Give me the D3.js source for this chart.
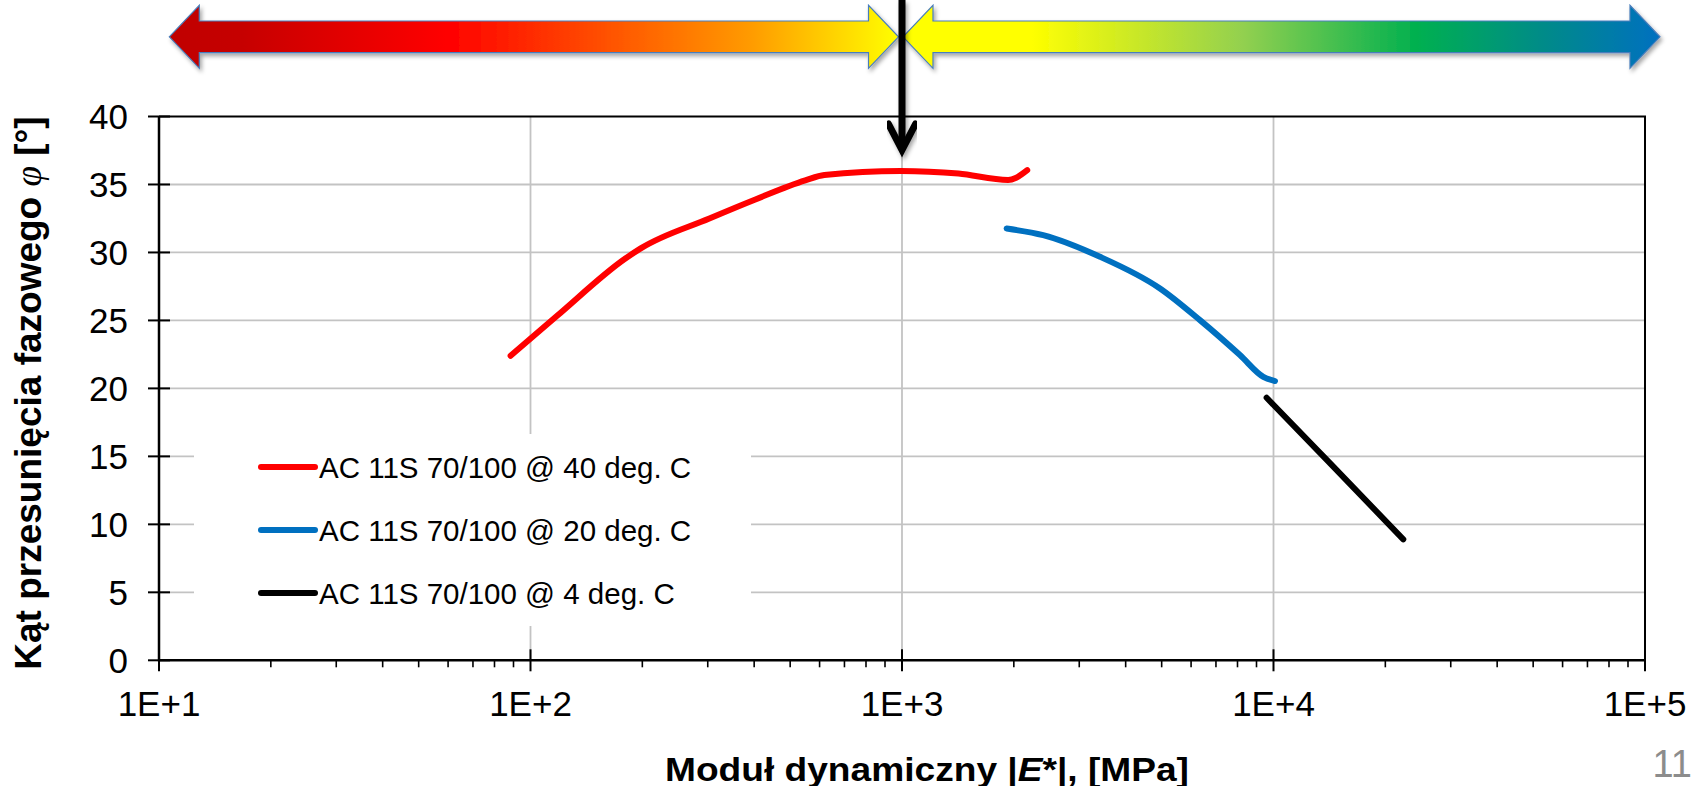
<!DOCTYPE html>
<html>
<head>
<meta charset="utf-8">
<script src="https://cdn.jsdelivr.net/npm/d3@7"></script>
<style>
  body { margin: 0; background: #fff; }
  svg text { font-family: "Liberation Sans", Arial, sans-serif; }
</style>
</head>
<body>
<svg id="graphic-svg" width="1707" height="786"></svg>
<script>
////////////////////////////////////////////////////////////////////////////////////
// Data - modulus |E*| in MPa, phase angle in deg
var seriesNames = ["AC 11S 70/100 @ 40 deg. C", "AC 11S 70/100 @ 20 deg. C", "AC 11S 70/100 @ 4 deg. C"];
var seriesColors = ["#ff0000", "#0070c0", "#000000"];

var modulus40 = [88.4, 117.5, 180, 198, 303, 403, 549, 618, 993, 1419, 1931, 2030, 2173];
var phase40   = [22.4, 25.3, 29.55, 30.3, 32.5, 33.9, 35.3, 35.7, 36.0, 35.8, 35.33, 35.5, 36.05];

var modulus20 = [1913, 2399, 3412, 4949, 6339, 8123, 9389, 10093];
var phase20   = [31.76, 31.27, 29.68, 27.35, 25.02, 22.45, 20.85, 20.54];

var modulus4 = [9583, 14488, 22355];
var phase4   = [19.31, 14.24, 8.9];

var xTicks = [10, 100, 1000, 10000, 100000];
var xTickLabels = ["1E+1", "1E+2", "1E+3", "1E+4", "1E+5"];
var yTicks = [0, 5, 10, 15, 20, 25, 30, 35, 40];

////////////////////////////////////////////////////////////////////////////////////
var svg = d3.select("#graphic-svg");
// plot area edges (note: can't use "top" as a global name, it's window.top)
var plotL = 159, plotR = 1645, plotT = 116.5, plotB = 660.3;

var xScale = d3.scaleLog()
               .domain([10, 100000])
               .range([plotL, plotR]);
var yScale = d3.scaleLinear()
               .domain([0, 40])
               .range([plotB, plotT]);

var gridColor = "#c3c3c3";

// defs: gradients + shadow
var defs = svg.append("defs");
function addGradient(id, x1, x2, stops) {
  var g = defs.append("linearGradient")
              .attr("id", id)
              .attr("gradientUnits", "userSpaceOnUse")
              .attr("x1", x1).attr("x2", x2)
              .attr("y1", 0).attr("y2", 0);
  stops.forEach(function(s) {
    g.append("stop").attr("offset", s[0]).attr("stop-color", s[1]);
  });
}
var shadow = defs.append("filter").attr("id", "shadow")
                 .attr("x", "-5%").attr("y", "-30%").attr("width", "110%").attr("height", "170%");
shadow.append("feDropShadow")
      .attr("dx", 2).attr("dy", 3)
      .attr("stdDeviation", 2)
      .attr("flood-color", "#000")
      .attr("flood-opacity", 0.35);

// Gridlines
svg.append("g")
   .selectAll("line")
   .data(yTicks.filter(function(d) { return d > 0 && d < 40; }))
   .enter()
   .append("line")
   .attr("x1", plotL).attr("x2", plotR)
   .attr("y1", function(d) { return yScale(d); })
   .attr("y2", function(d) { return yScale(d); })
   .style("stroke", gridColor)
   .style("stroke-width", 1.8);
svg.append("g")
   .selectAll("line")
   .data(xTicks.slice(1, 4))
   .enter()
   .append("line")
   .attr("x1", function(d) { return xScale(d); })
   .attr("x2", function(d) { return xScale(d); })
   .attr("y1", plotT).attr("y2", plotB)
   .style("stroke", gridColor)
   .style("stroke-width", 1.8);

// Legend background (hides gridlines behind it)
svg.append("rect")
   .attr("x", 194).attr("y", 434)
   .attr("width", 557).attr("height", 192)
   .style("fill", "#fff");

// Plot frame (top + right)
svg.append("path")
   .attr("d", "M" + plotL + "," + plotT + "H" + plotR + "V" + plotB)
   .style("fill", "none")
   .style("stroke", "#000")
   .style("stroke-width", 2);

// Y axis
var gy = svg.append("g").attr("transform", "translate(" + plotL + ",0)");
gy.append("line")
  .attr("x1", 0).attr("x2", 0).attr("y1", plotT).attr("y2", plotB + 1)
  .style("stroke", "#000").style("stroke-width", 2.5);
gy.selectAll(".ytick")
  .data(yTicks)
  .enter()
  .append("line")
  .attr("class", "ytick")
  .attr("x1", -11).attr("x2", 11)
  .attr("y1", function(d) { return yScale(d); })
  .attr("y2", function(d) { return yScale(d); })
  .style("stroke", "#000").style("stroke-width", 2);
gy.selectAll(".ylab")
  .data(yTicks)
  .enter()
  .append("text")
  .attr("class", "ylab")
  .attr("x", -31)
  .attr("y", function(d) { return yScale(d); })
  .attr("dy", "0.36em")
  .attr("text-anchor", "end")
  .style("font-size", "35px")
  .style("fill", "#000")
  .text(function(d) { return d; });

// X axis
var minorTicks = [];
[10, 100, 1000, 10000].forEach(function(dec) {
  for (var k = 2; k <= 9; k++) { minorTicks.push(dec * k); }
});
var gx = svg.append("g").attr("transform", "translate(0," + plotB + ")");
gx.append("line")
  .attr("x1", plotL - 1).attr("x2", plotR).attr("y1", 0).attr("y2", 0)
  .style("stroke", "#000").style("stroke-width", 2.5);
gx.selectAll(".xmajor")
  .data(xTicks)
  .enter()
  .append("line")
  .attr("class", "xmajor")
  .attr("x1", function(d) { return xScale(d); })
  .attr("x2", function(d) { return xScale(d); })
  .attr("y1", -11).attr("y2", 11)
  .style("stroke", "#000").style("stroke-width", 2);
gx.selectAll(".xminor")
  .data(minorTicks)
  .enter()
  .append("line")
  .attr("class", "xminor")
  .attr("x1", function(d) { return xScale(d); })
  .attr("x2", function(d) { return xScale(d); })
  .attr("y1", 0).attr("y2", 7)
  .style("stroke", "#000").style("stroke-width", 1.6);
gx.selectAll(".xlab")
  .data(xTicks)
  .enter()
  .append("text")
  .attr("class", "xlab")
  .attr("x", function(d) { return xScale(d); })
  .attr("y", 56)
  .attr("text-anchor", "middle")
  .style("font-size", "35px")
  .style("fill", "#000")
  .text(function(d, i) { return xTickLabels[i]; });

// Axis titles
var yTitle = svg.append("text")
                .attr("transform", "translate(41,393) rotate(-90)")
                .attr("text-anchor", "middle")
                .style("font-size", "37px")
                .style("font-weight", "bold")
                .style("fill", "#000");
yTitle.append("tspan").text("Kąt przesunięcia fazowego ");
yTitle.append("tspan")
      .style("font-family", "'Liberation Serif', serif")
      .style("font-style", "italic")
      .style("font-weight", "normal")
      .text("φ");
yTitle.append("tspan").text(" [°]");

// x title, slightly widened to the original's span
var xTitle = svg.append("text")
                .attr("x", 665).attr("y", 781)
                .attr("textLength", 524)
                .attr("lengthAdjust", "spacingAndGlyphs")
                .style("font-size", "34px")
                .style("font-weight", "bold")
                .style("fill", "#000");
xTitle.append("tspan").text("Moduł dynamiczny |");
xTitle.append("tspan").style("font-style", "italic").text("E");
xTitle.append("tspan").text("*|, [MPa]");

// Slide number
svg.append("text")
   .attr("x", 1692).attr("y", 777)
   .attr("text-anchor", "end")
   .style("font-size", "38px")
   .style("fill", "#8c8c8c")
   .text("11");

// Data lines
var line = d3.line()
             .x(function(d) { return xScale(d[0]); })
             .y(function(d) { return yScale(d[1]); })
             .curve(d3.curveMonotoneX);
var allSeries = [
  d3.zip(modulus40, phase40),
  d3.zip(modulus20, phase20),
  d3.zip(modulus4, phase4)
];
svg.append("g")
   .selectAll("path")
   .data(allSeries)
   .enter()
   .append("path")
   .attr("d", line)
   .style("fill", "none")
   .style("stroke", function(d, i) { return seriesColors[i]; })
   .style("stroke-width", 6)
   .style("stroke-linecap", "round")
   .style("stroke-linejoin", "round");

// Legend
var legend = svg.append("g")
                .selectAll("g")
                .data(seriesNames)
                .enter()
                .append("g")
                .attr("transform", function(d, i) { return "translate(0," + (467 + i * 63) + ")"; });
legend.append("line")
      .attr("x1", 261).attr("x2", 315)
      .attr("y1", 0).attr("y2", 0)
      .style("stroke", function(d, i) { return seriesColors[i]; })
      .style("stroke-width", 6)
      .style("stroke-linecap", "round");
legend.append("text")
      .attr("x", 319)
      .attr("y", 0)
      .attr("dy", "0.36em")
      .style("font-size", "29.5px")
      .style("fill", "#000")
      .text(function(d) { return d; });

////////////////////////////////////////////////////////////////////////////////////
// Stiffness range arrows at the top, split at |E*| = 1000 MPa
var splitX = xScale(1000);
var cy = 36.8, headLen = 30, headHalf = 31.5, shaftHalf = 15.8;
function doubleArrow(x0, x1) {
  return "M" + x0 + "," + cy +
         "L" + (x0 + headLen) + "," + (cy - headHalf) +
         "L" + (x0 + headLen) + "," + (cy - shaftHalf) +
         "L" + (x1 - headLen) + "," + (cy - shaftHalf) +
         "L" + (x1 - headLen) + "," + (cy - headHalf) +
         "L" + x1 + "," + cy +
         "L" + (x1 - headLen) + "," + (cy + headHalf) +
         "L" + (x1 - headLen) + "," + (cy + shaftHalf) +
         "L" + (x0 + headLen) + "," + (cy + shaftHalf) +
         "L" + (x0 + headLen) + "," + (cy + headHalf) + "Z";
}
var leftX0 = 169.3, leftX1 = splitX - 3.5;
var rightX0 = splitX + 1, rightX1 = 1660;
addGradient("gradSoft", leftX0, leftX1, [
  [0, "#c00000"], [0.1, "#c60000"], [0.38, "#ff0000"], [0.58, "#ff4a00"],
  [0.8, "#ff9c00"], [1, "#ffff00"]
]);
addGradient("gradStiff", rightX0, rightX1, [
  [0, "#ffff00"], [0.17, "#ffff00"], [0.45, "#92d050"], [0.68, "#00b050"],
  [0.85, "#008a8a"], [1, "#0070c0"]
]);
svg.append("path")
   .attr("d", doubleArrow(leftX0, leftX1))
   .style("fill", "url(#gradSoft)")
   .style("stroke", "#4a7ebb")
   .style("stroke-width", 1.2)
   .attr("filter", "url(#shadow)");
svg.append("path")
   .attr("d", doubleArrow(rightX0, rightX1))
   .style("fill", "url(#gradStiff)")
   .style("stroke", "#4a7ebb")
   .style("stroke-width", 1.2)
   .attr("filter", "url(#shadow)");

// Black arrow pointing at 1E+3
var arrowG = svg.append("g").attr("filter", "url(#shadow)");
arrowG.append("line")
      .attr("x1", splitX).attr("x2", splitX)
      .attr("y1", 0).attr("y2", 150)
      .style("stroke", "#000")
      .style("stroke-width", 7);
arrowG.append("path")
      .attr("d", "M" + (splitX - 13.5) + ",124L" + splitX + ",150L" + (splitX + 13.5) + ",124")
      .style("fill", "none")
      .style("stroke", "#000")
      .style("stroke-width", 7)
      .style("stroke-linecap", "round")
      .style("stroke-linejoin", "miter");
</script>
</body>
</html>
